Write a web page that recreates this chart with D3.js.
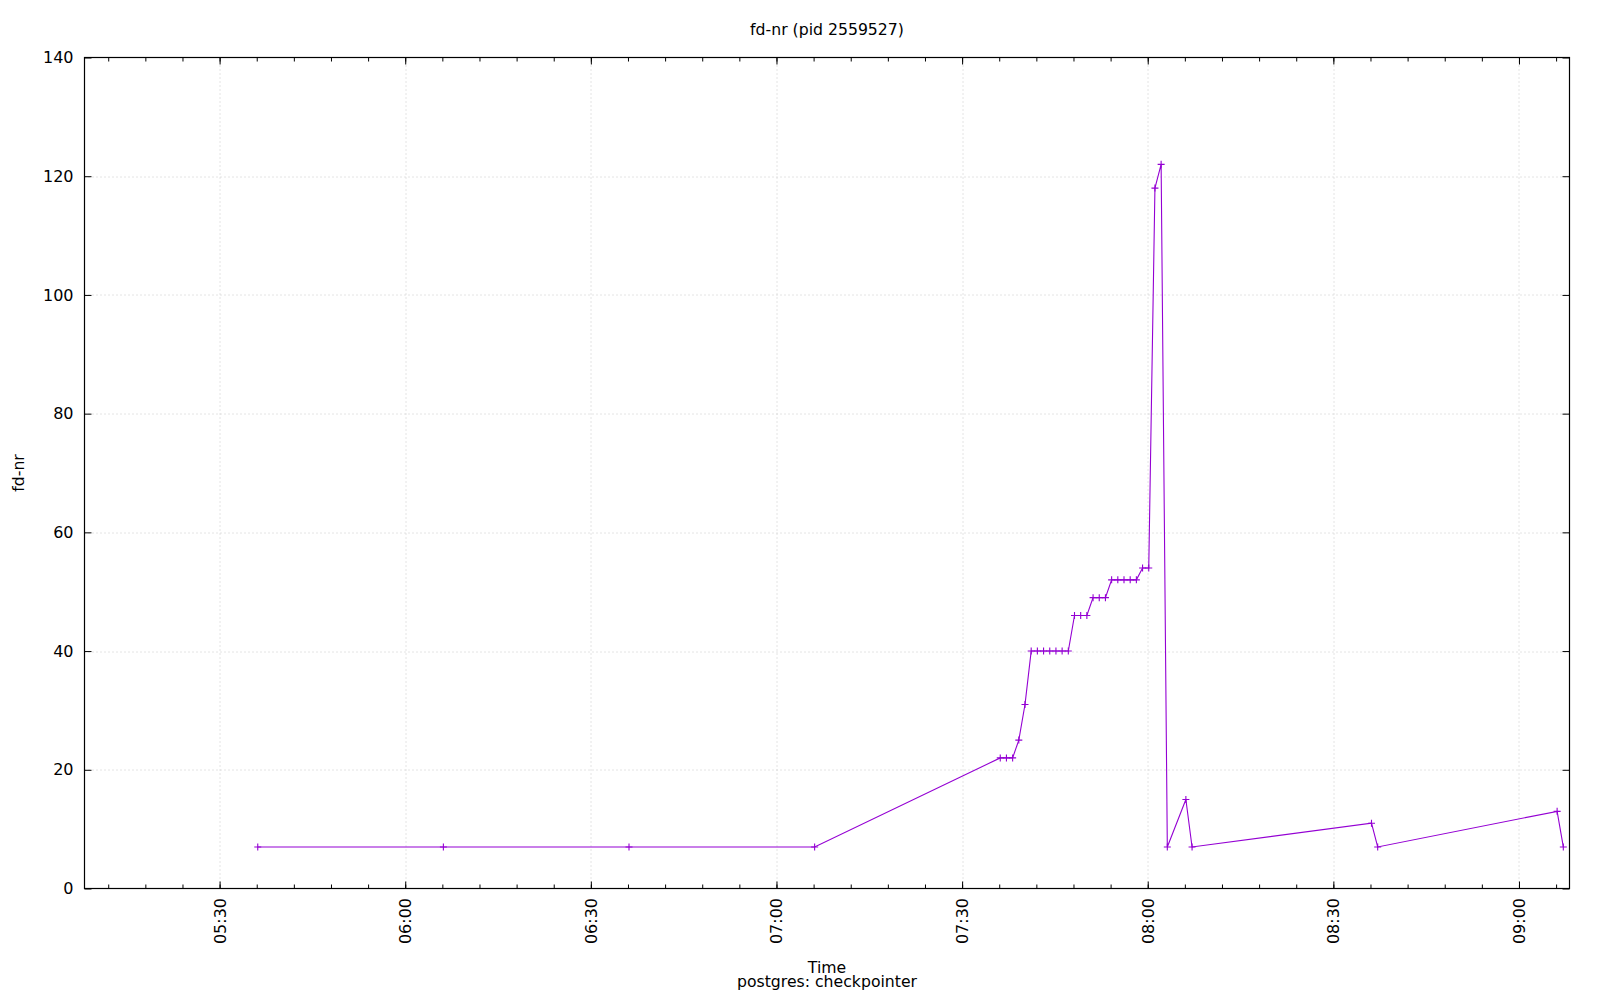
<!DOCTYPE html>
<html>
<head>
<meta charset="utf-8">
<script src="https://cdn.jsdelivr.net/npm/d3@7"></script>
<style>
  body { margin: 0; background: #fff; }
  svg, svg text { font-family: "DejaVu Sans", sans-serif; }
</style>
</head>
<body>
<div class="container"></div>
<script>
// samples (time of day, fd count)
const times = [
  "05:36:10", "06:06:10", "06:36:10", "07:06:10",
  "07:36:10", "07:37:10", "07:38:10", "07:39:10", "07:40:10",
  "07:41:10", "07:42:10", "07:43:10", "07:44:10", "07:45:10", "07:46:10", "07:47:10",
  "07:48:10", "07:49:10", "07:50:10",
  "07:51:10", "07:52:10", "07:53:10",
  "07:54:10", "07:55:10", "07:56:10", "07:57:10", "07:58:10",
  "07:59:10", "08:00:10", "08:01:10", "08:02:10", "08:03:10",
  "08:06:10", "08:07:10", "08:36:10", "08:37:10", "09:06:10", "09:07:10"
];
const fdValues = [
  7, 7, 7, 7,
  22, 22, 22, 25, 31,
  40, 40, 40, 40, 40, 40, 40,
  46, 46, 46,
  49, 49, 49,
  52, 52, 52, 52, 52,
  54, 54, 118, 122, 7,
  15, 7, 11, 7, 13, 7
];
const xRange = ["05:08:10", "09:08:10"];
const yTicks = [0, 20, 40, 60, 80, 100, 120, 140];

const parseTime = d3.utcParse("%H:%M:%S");
const fmt = d3.utcFormat("%H:%M");

const data = times.map((t, i) => ({ t: parseTime(t), v: fdValues[i] }));

const margin = { top: 57.5, right: 30.5, bottom: 111.5, left: 84.5 };
const W = 1600, H = 1000;
const w = W - margin.left - margin.right;
const h = H - margin.top - margin.bottom;

let x = d3.scaleUtc()
  .domain(xRange.map(parseTime))
  .range([0, w]);

let y = d3.scaleLinear()
  .domain([0, 140])
  .range([h, 0]);

let svg = d3.select(".container")
  .append("svg")
  .attr("width", W)
  .attr("height", H);

let g = svg.append("g")
  .attr("transform", `translate(${margin.left},${margin.top})`);

// grid
let majorX = x.ticks(d3.utcMinute.every(30));
g.append("g")
  .selectAll("line")
  .data(majorX)
  .enter().append("line")
  .attr("x1", d => Math.round(x(d)) + 0.5)
  .attr("x2", d => Math.round(x(d)) + 0.5)
  .attr("y1", 0)
  .attr("y2", h)
  .attr("stroke", "#c8c8c8")
  .attr("stroke-dasharray", "1,3");

g.append("g")
  .selectAll("line")
  .data(yTicks.slice(1, -1))
  .enter().append("line")
  .attr("x1", 0)
  .attr("x2", w)
  .attr("y1", d => Math.round(y(d)) + 0.5)
  .attr("y2", d => Math.round(y(d)) + 0.5)
  .attr("stroke", "#c8c8c8")
  .attr("stroke-dasharray", "1,3");

// axes with inward ticks
function styleAxis(sel) {
  sel.attr("font-family", "DejaVu Sans").attr("font-size", 16);
  sel.select(".domain").remove();
  sel.selectAll("line").attr("stroke", "#000");
  sel.selectAll("text").attr("fill", "#000");
}

g.append("g")
  .attr("transform", `translate(0,${h})`)
  .call(d3.axisBottom(x).ticks(d3.utcMinute.every(6)).tickSize(-4).tickFormat(""))
  .call(styleAxis);

g.append("g")
  .call(d3.axisTop(x).ticks(d3.utcMinute.every(6)).tickSize(-4).tickFormat(""))
  .call(styleAxis);

g.append("g")
  .call(d3.axisTop(x).ticks(d3.utcMinute.every(30)).tickSize(-7).tickFormat(""))
  .call(styleAxis);

let xAxis = g.append("g")
  .attr("transform", `translate(0,${h})`)
  .call(d3.axisBottom(x).ticks(d3.utcMinute.every(30)).tickSize(-7).tickFormat(fmt))
  .call(styleAxis);

xAxis.selectAll("text")
  .attr("y", 0)
  .attr("dy", null)
  .attr("text-anchor", "end")
  .attr("dominant-baseline", "central")
  .attr("transform", "translate(0,9.5) rotate(-90)");

g.append("g")
  .call(d3.axisLeft(y).tickValues(yTicks).tickSize(-7).tickPadding(11))
  .call(styleAxis);

g.append("g")
  .attr("transform", `translate(${w},0)`)
  .call(d3.axisRight(y).tickValues(yTicks).tickSize(-7).tickFormat(""))
  .call(styleAxis);

// border
g.append("rect")
  .attr("width", w)
  .attr("height", h)
  .attr("fill", "none")
  .attr("stroke", "#000")
  .attr("stroke-width", 1.2);

// series
const purple = "#9400d3";
let line = d3.line()
  .x(d => x(d.t))
  .y(d => y(d.v));

g.append("path")
  .datum(data)
  .attr("fill", "none")
  .attr("stroke", purple)
  .attr("stroke-width", 1.1)
  .attr("d", line);

g.append("g")
  .selectAll("path")
  .data(data)
  .enter().append("path")
  .attr("d", d => {
    let px = x(d.t), py = y(d.v), s = 3.5;
    return `M${px - s},${py}H${px + s}M${px},${py - s}V${py + s}`;
  })
  .attr("stroke", purple)
  .attr("stroke-width", 1.1);

// labels
svg.append("text")
  .attr("x", margin.left + w / 2)
  .attr("y", 35)
  .attr("text-anchor", "middle")
  .style("font-size", "15.7px")
  .text("fd-nr (pid 2559527)");

svg.append("text")
  .attr("transform", `translate(24,${margin.top + h / 2}) rotate(-90)`)
  .attr("text-anchor", "middle")
  .style("font-size", "15.7px")
  .text("fd-nr");

svg.append("text")
  .attr("x", margin.left + w / 2)
  .attr("y", 973)
  .attr("text-anchor", "middle")
  .style("font-size", "15.7px")
  .text("Time");

svg.append("text")
  .attr("x", margin.left + w / 2)
  .attr("y", 987)
  .attr("text-anchor", "middle")
  .style("font-size", "15.7px")
  .text("postgres: checkpointer");
</script>
</body>
</html>
